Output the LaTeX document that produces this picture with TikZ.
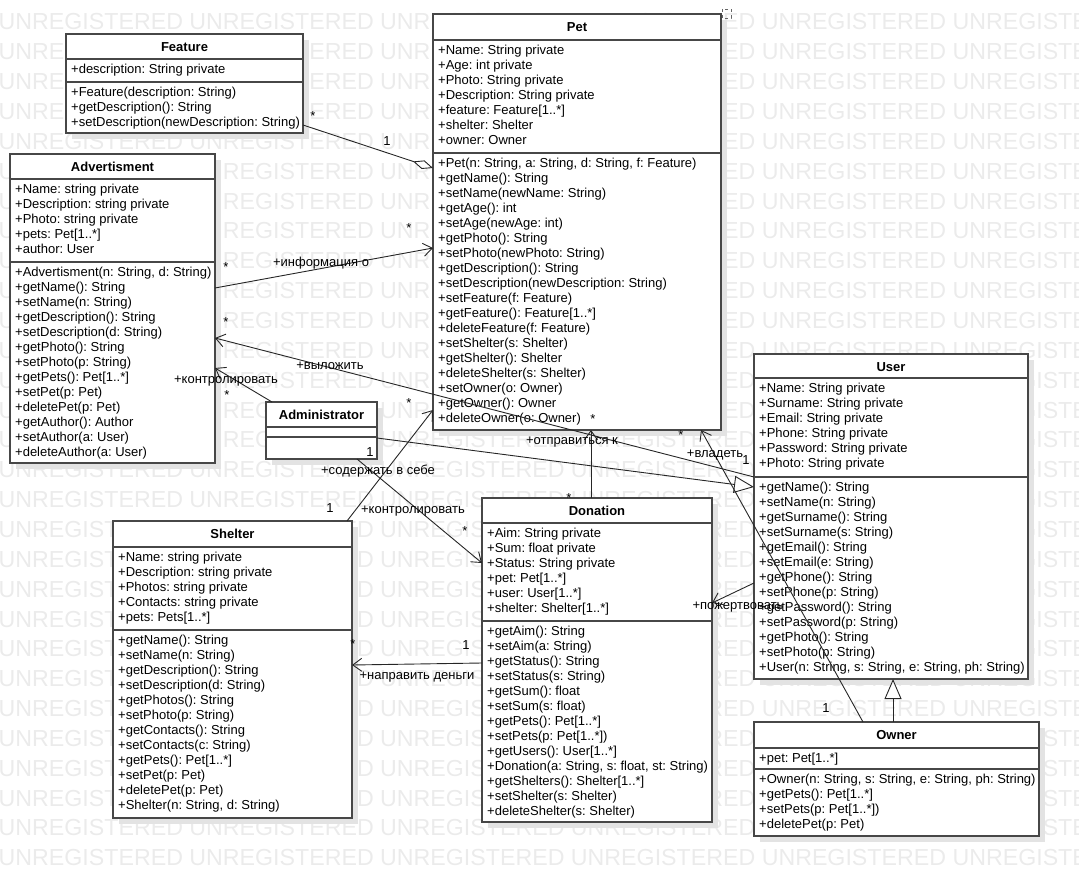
\documentclass[tikz,border=0pt]{standalone}
\usepackage{fontspec}
\setmainfont{Liberation Sans}
\usetikzlibrary{arrows.meta, calc, positioning}
\frenchspacing

\tikzset{
  classbox/.style={draw=black!72, line width=1.4pt, fill=white, anchor=north west, inner sep=0pt, outer sep=0pt},
  partline/.style={draw=black!72, line width=1.4pt},
  boxshadow/.style={fill=black!11},
  classtitle/.style={font=\bfseries\fontsize{13}{15}\selectfont, anchor=base, inner sep=0pt},
  member/.style={font=\fontsize{13}{15}\selectfont, anchor=base west, inner sep=0pt},
  lbl/.style={font=\fontsize{13}{15}\selectfont, inner sep=0pt},
  rel/.style={draw=black!85, line width=0.9pt},
  assoc/.style={rel, -{Straight Barb[length=9pt,width=13pt]}},
  inherit/.style={rel, -{Triangle[fill=white,length=20pt,width=17pt]}},
  aggr/.style={rel, -{Diamond[fill=white,length=21pt,width=9pt]}},
  watermark/.style={font=\fontsize{23.2}{25}\selectfont, text=black!8, anchor=base west, inner sep=0pt},
}

% box with shadow and title
\newcommand{\umlclass}[6]{%
  \fill[boxshadow] (#2+6,#3+6) rectangle (#4+6,#5+6);
  \node[classbox, minimum width={(#4-#2)*1pt}, minimum height={(#5-#3)*1pt}] (#1) at (#2,#3) {};
  \node[classtitle] (#1-title) at ({(#2+#4)/2},#3+17.5) {#6};
}
% separator and member lines
\newcommand{\classpart}[4]{%
  \draw[partline] ($(#1.north west)+(0,#3)$) -- ($(#1.north east)+(0,#3)$);
  \foreach \mline [count=\i] in {#4}
    \node[member] (#1-#2\i) at ($(#1.north west)+(5,#3+14.5+15*\i-15)$) {\mline};
}

\begin{document}
\begin{tikzpicture}[x=1pt,y=-1pt]
\useasboundingbox (0,0) rectangle (1079,877);

\begin{scope}
\clip (0,0) rectangle (1079,877);
\foreach \k in {0,...,28}
  \node[watermark] (wm\k) at (-1.5,30+29.85*\k) {UNREGISTERED UNREGISTERED UNREGISTERED UNREGISTERED UNREGISTERED UNREGISTERED};
\end{scope}

% Feature
\umlclass{feature}{66}{34}{303}{133}{Feature}
\classpart{feature}{a}{25}{{+description: String private}}
\classpart{feature}{m}{48}{{+Feature(description: String)},{+getDescription(): String},{+setDescription(newDescription: String)}}

% Advertisment
\umlclass{advert}{10}{154}{215}{463}{Advertisment}
\classpart{advert}{a}{25}{{+Name: string private},{+Description: string private},{+Photo: string private},{+pets: Pet[1..*]},{+author: User}}
\classpart{advert}{m}{108}{{+Advertisment(n: String, d: String)},{+getName(): String},{+setName(n: String)},{+getDescription(): String},{+setDescription(d: String)},{+getPhoto(): String},{+setPhoto(p: String)},{+getPets(): Pet[1..*]},{+setPet(p: Pet)},{+deletePet(p: Pet)},{+getAuthor(): Author},{+setAuthor(a: User)},{+deleteAuthor(a: User)}}

% Pet
\umlclass{pet}{433}{14}{721}{430}{Pet}
\classpart{pet}{a}{26}{{+Name: String private},{+Age: int private},{+Photo: String private},{+Description: String private},{+feature: Feature[1..*]},{+shelter: Shelter},{+owner: Owner}}
\classpart{pet}{m}{139}{{+Pet(n: String, a: String, d: String, f: Feature)},{+getName(): String},{+setName(newName: String)},{+getAge(): int},{+setAge(newAge: int)},{+getPhoto(): String},{+setPhoto(newPhoto: String)},{+getDescription(): String},{+setDescription(newDescription: String)},{+setFeature(f: Feature)},{+getFeature(): Feature[1..*]},{+deleteFeature(f: Feature)},{+setShelter(s: Shelter)},{+getShelter(): Shelter},{+deleteShelter(s: Shelter)},{+setOwner(o: Owner)},{+getOwner(): Owner},{+deleteOwner(o: Owner)}}
\draw[black!60, dashed, line width=0.6pt] (722,9) rectangle (731,18);

% Administrator
\umlclass{admin}{266}{402}{377}{459}{Administrator}
\draw[partline] ($(admin.north west)+(0,25)$) -- ($(admin.north east)+(0,25)$);
\draw[partline] ($(admin.north west)+(0,35)$) -- ($(admin.north east)+(0,35)$);

% Shelter
\umlclass{shelter}{113}{521}{352}{818}{Shelter}
\classpart{shelter}{a}{26}{{+Name: string private},{+Description: string private},{+Photos: string private},{+Contacts: string private},{+pets: Pets[1..*]}}
\classpart{shelter}{m}{109}{{+getName(): String},{+setName(n: String)},{+getDescription(): String},{+setDescription(d: String)},{+getPhotos(): String},{+setPhoto(p: String)},{+getContacts(): String},{+setContacts(c: String)},{+getPets(): Pet[1..*]},{+setPet(p: Pet)},{+deletePet(p: Pet)},{+Shelter(n: String, d: String)}}

% Donation
\umlclass{donation}{482}{498}{712}{822}{Donation}
\classpart{donation}{a}{25}{{+Aim: String private},{+Sum: float private},{+Status: String private},{+pet: Pet[1..*]},{+user: User[1..*]},{+shelter: Shelter[1..*]}}
\classpart{donation}{m}{123}{{+getAim(): String},{+setAim(a: String)},{+getStatus(): String},{+setStatus(s: String)},{+getSum(): float},{+setSum(s: float)},{+getPets(): Pet[1..*]},{+setPets(p: Pet[1..*])},{+getUsers(): User[1..*]},{+Donation(a: String, s: float, st: String)},{+getShelters(): Shelter[1..*]},{+setShelter(s: Shelter)},{+deleteShelter(s: Shelter)}}

% User
\umlclass{user}{754}{354}{1028}{679}{User}
\classpart{user}{a}{24}{{+Name: String private},{+Surname: String private},{+Email: String private},{+Phone: String private},{+Password: String private},{+Photo: String private}}
\classpart{user}{m}{123}{{+getName(): String},{+setName(n: String)},{+getSurname(): String},{+setSurname(s: String)},{+getEmail(): String},{+setEmail(e: String)},{+getPhone(): String},{+setPhone(p: String)},{+getPassword(): String},{+setPassword(p: String)},{+getPhoto(): String},{+setPhoto(p: String)},{+User(n: String, s: String, e: String, ph: String)}}

% Owner
\umlclass{owner}{754}{722}{1039}{836}{Owner}
\classpart{owner}{a}{26}{{+pet: Pet[1..*]}}
\classpart{owner}{m}{47}{{+Owner(n: String, s: String, e: String, ph: String)},{+getPets(): Pet[1..*]},{+setPets(p: Pet[1..*])},{+deletePet(p: Pet)}}

% relations
\draw[aggr] ($(feature.south east)+(0,-8)$) -- ($(pet.north west)+(0,154)$);
\draw[assoc] ($(advert.north east)+(0,134)$) -- ($(pet.north west)+(0,234)$);
\draw[assoc] ($(user.north west)+(0,123)$) -- ($(advert.north east)+(0,184)$);
\draw[assoc] ($(admin.north west)+(6,0)$) -- ($(advert.north east)+(0,214)$);
\draw[inherit] ($(admin.north east)+(0,36)$) -- ($(user.north west)+(0,133)$);
\draw[assoc] ($(admin.south east)+(-20,0)$) -- ($(donation.north west)+(0,65)$);
\draw[assoc] ($(shelter.north east)+(-5,0)$) -- ($(pet.north west)+(0,396)$);
\draw[assoc] ($(donation.north west)+(109,0)$) -- ($(pet.south west)+(158,0)$);
\draw[assoc] ($(donation.north west)+(0,165)$) -- ($(shelter.north east)+(0,144)$);
\draw[assoc] ($(user.north west)+(0,229)$) -- ($(donation.north east)+(0,105)$);
\draw[inherit] ($(owner.north west)+(139,0)$) -- ($(user.south west)+(139,0)$);
\draw[assoc] ($(owner.north west)+(109,0)$) -- ($(pet.south east)+(-20,0)$);

% labels
\node[lbl] (fm1) at (313,116) {*};
\node[lbl] (fm2) at (387,141) {1};
\node[lbl] (am1) at (226,267) {*};
\node[lbl] (am2) at (409,228) {*};
\node[lbl] (an) at (321,263) {+информация о};
\node[lbl] (um1) at (226,322) {*};
\node[lbl] (un) at (330,366) {+выложить};
\node[lbl] (um2) at (746,460) {1};
\node[lbl] (cn1) at (226,381) {+контролировать};
\node[lbl] (cm1) at (227,395) {*};
\node[lbl] (sn) at (378,471) {+содержать в себе};
\node[lbl] (sm1) at (330,508) {1};
\node[lbl] (sm2) at (409,403) {*};
\node[lbl] (cm2) at (370,452) {1};
\node[lbl] (cn2) at (413,511) {+контролировать};
\node[lbl] (cm3) at (465,531) {*};
\node[lbl] (dn) at (572,442) {+отправиться к};
\node[lbl] (dm1) at (593,419) {*};
\node[lbl] (dm2) at (569,498) {*};
\node[lbl] (nn) at (417,677) {+направить деньги};
\node[lbl] (nm1) at (466,645) {1};
\node[lbl] (nm2) at (353,644) {*};
\node[lbl] (pn) at (738,607) {+пожертвовать};
\node[lbl] (on) at (715,455) {+владеть};
\node[lbl] (om1) at (681,435) {*};
\node[lbl] (om2) at (826,708) {1};
\end{tikzpicture}
\end{document}
